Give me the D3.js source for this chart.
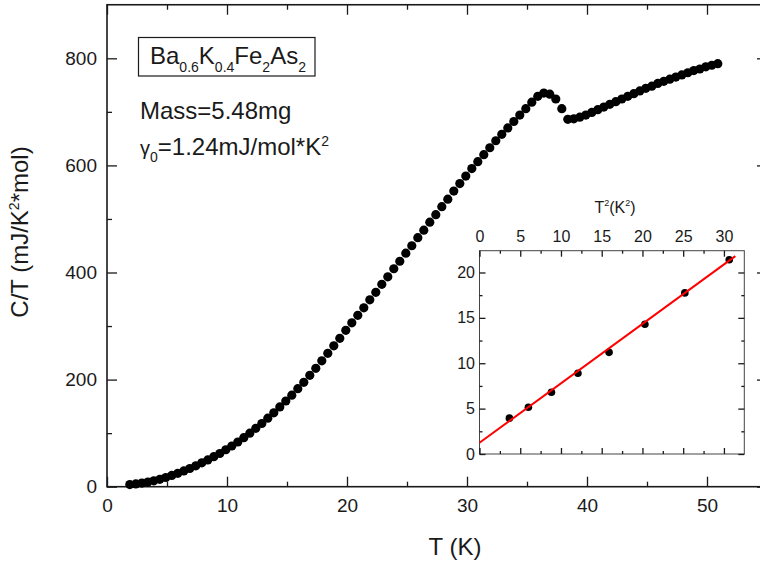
<!DOCTYPE html>
<html>
<head>
<meta charset="utf-8">
<script src="https://cdn.jsdelivr.net/npm/d3@7"></script>
<style>
    body { margin: 0; background: #fff; }
    svg { display: block; font-family: "Liberation Sans", Arial, sans-serif; }
</style>
</head>
<body>
<svg id="chart" width="760" height="567"></svg>
<script>
// main curve: C/T vs T
var tempK = [1.9, 2.4, 2.9, 3.4, 3.9, 4.4, 4.9, 5.4, 5.9, 6.4,
    6.9, 7.4, 7.9, 8.4, 8.9, 9.4, 9.9, 10.4, 10.9, 11.4,
    11.9, 12.4, 12.9, 13.4, 13.9, 14.4, 14.9, 15.4, 15.9, 16.4,
    16.9, 17.4, 17.9, 18.4, 18.9, 19.4, 19.9, 20.4, 20.9, 21.4,
    21.9, 22.4, 22.9, 23.4, 23.9, 24.4, 24.9, 25.4, 25.9, 26.4,
    26.9, 27.4, 27.9, 28.4, 28.9, 29.4, 29.9, 30.4, 30.9, 31.4,
    31.9, 32.4, 32.9, 33.4, 33.9, 34.4, 34.9, 35.4, 35.9, 36.4,
    36.9, 37.4, 37.9, 38.4, 38.9, 39.4, 39.9, 40.4, 40.9, 41.4,
    41.9, 42.4, 42.9, 43.4, 43.9, 44.4, 44.9, 45.4, 45.9, 46.4,
    46.9, 47.4, 47.9, 48.4, 48.9, 49.4, 49.9, 50.4, 50.9];
var cOverT = [3.9, 5.1, 6.7, 8.7, 11.0, 13.8, 17.2, 21.0, 25.0, 29.5,
    34.0, 39.0, 44.5, 50.0, 56.0, 62.0, 69.0, 76.0, 83.5, 91.5,
    100, 109, 118, 128, 138, 149, 160, 171, 183, 195,
    208, 221, 235, 249, 263, 277, 292, 306, 320, 334,
    349, 363, 378, 392, 407, 421, 436, 450, 465, 479,
    494, 508, 523, 537, 552, 566, 580, 594, 607, 620,
    633, 646, 658, 670, 682, 694, 706, 718, 729, 735,
    733, 724, 706, 686, 687, 690, 694, 699, 704, 709,
    714, 719, 724, 729, 734, 739, 744, 748, 753, 757,
    761, 765, 769, 773, 777, 780, 784, 787, 790];

// inset: C/T vs T^2 at low temperature, with the linear fit
var insetT2 = [3.67, 6.0, 8.83, 12.08, 15.9, 20.3, 25.2, 30.65];
var insetCT = [3.95, 5.15, 6.8, 8.9, 11.2, 14.3, 17.75, 21.4];
var fitT2 = [0, 31.4];
var fitCT = [1.24, 21.8];

// tick values
var xMajor = [0, 10, 20, 30, 40, 50];
var xMinor = [5, 15, 25, 35, 45];
var yMajor = [0, 200, 400, 600, 800];
var yMinor = [100, 300, 500, 700];
var insetXMajor = [0, 5, 10, 15, 20, 25, 30];
var insetXMinor = [2.5, 7.5, 12.5, 17.5, 22.5, 27.5];
var insetYMajor = [0, 5, 10, 15, 20];
var insetYMinor = [2.5, 7.5, 12.5, 17.5];

var svg = d3.select("#chart");
var ink = "#1a1a1a";

var x = d3.scaleLinear().domain([0, 55]).range([107, 767]);
var y = d3.scaleLinear().domain([0, 900]).range([486.7, 4.75]);

//draws one set of ticks (major with labels or minor without)
function ticks(axis, values, size, pad, fontSize, labelled, tx, ty) {
    var g = svg.append("g")
        .attr("transform", "translate(" + tx + "," + ty + ")")
        .call(axis.tickValues(values).tickSize(-size).tickPadding(pad)
            .tickFormat(labelled ? d3.format("") : ""));
    g.select(".domain").remove();
    g.selectAll("line").attr("stroke", ink).attr("stroke-width", 1.3);
    g.selectAll("text").attr("fill", ink).style("font-size", fontSize + "px")
        .style("font-family", "\"Liberation Sans\", Arial, sans-serif");
    return g;
}

// main axes: ticks point inwards on all four sides
ticks(d3.axisBottom(x), xMajor, 10, 12, 19, true, 0, y(0));
ticks(d3.axisBottom(x), xMinor, 5, 12, 19, false, 0, y(0));
ticks(d3.axisTop(x), xMajor, 10, 8, 19, false, 0, y(900));
ticks(d3.axisTop(x), xMinor, 5, 8, 19, false, 0, y(900));
ticks(d3.axisLeft(y), yMajor, 10, 10, 19, true, x(0), 0);
ticks(d3.axisLeft(y), yMinor, 5, 10, 19, false, x(0), 0);
ticks(d3.axisRight(y), yMajor, 10, 8, 19, false, x(55), 0);
ticks(d3.axisRight(y), yMinor, 5, 8, 19, false, x(55), 0);

svg.append("rect")
    .attr("x", x(0)).attr("y", y(900))
    .attr("width", x(55) - x(0)).attr("height", y(0) - y(900))
    .attr("fill", "none").attr("stroke", ink).attr("stroke-width", 1.6);

// axis titles
svg.append("text")
    .attr("x", 455).attr("y", 555)
    .attr("text-anchor", "middle")
    .style("font-size", "24px").attr("fill", ink)
    .text("T (K)");

var yTitle = svg.append("text")
    .attr("transform", "translate(28,232) rotate(-90)")
    .attr("text-anchor", "middle")
    .style("font-size", "24px").attr("fill", ink);
yTitle.append("tspan").text("C/T (mJ/K");
yTitle.append("tspan").attr("dy", -9).style("font-size", "14px").text("2");
yTitle.append("tspan").attr("dy", 9).text("*mol)");

// main data
svg.append("g").selectAll("circle")
    .data(tempK)
    .enter()
    .append("circle")
    .attr("cx", (d) => x(d))
    .attr("cy", (d, i) => y(cOverT[i]))
    .attr("r", 4.6)
    .attr("fill", "#000");

// formula box and notes
svg.append("rect")
    .attr("x", 138.5).attr("y", 37.5)
    .attr("width", 176.5).attr("height", 38.5)
    .attr("fill", "none").attr("stroke", ink).attr("stroke-width", 1.2);

var formula = svg.append("text")
    .attr("x", 150).attr("y", 63.5)
    .style("font-size", "24px").attr("fill", ink);
[["Ba", 0], ["0.6", 1], ["K", -1], ["0.4", 1], ["Fe", -1], ["2", 1], ["As", -1], ["2", 1]]
    .forEach(function(p) {
        var t = formula.append("tspan").text(p[0]);
        if (p[1] === 1) t.attr("dy", 8.5).style("font-size", "14px");
        if (p[1] === -1) t.attr("dy", -8.5);
    });

svg.append("text")
    .attr("x", 140).attr("y", 119)
    .style("font-size", "24px").attr("fill", ink)
    .text("Mass=5.48mg");

var gamma = svg.append("text")
    .attr("x", 140).attr("y", 155)
    .style("font-size", "24px").attr("fill", ink);
gamma.append("tspan").style("font-size", "20px").text("γ");
gamma.append("tspan").attr("dy", 7).style("font-size", "14px").text("0");
gamma.append("tspan").attr("dy", -7).text("=1.24mJ/mol*K");
gamma.append("tspan").attr("dy", -9).style("font-size", "14px").text("2");

// inset
var ix = d3.scaleLinear().domain([0, 32.5]).range([479.5, 744.3]);
var iy = d3.scaleLinear().domain([0, 22.4]).range([454, 250.7]);

svg.append("rect")
    .attr("x", ix(0)).attr("y", iy(22.4))
    .attr("width", ix(32.5) - ix(0)).attr("height", iy(0) - iy(22.4))
    .attr("fill", "#fff").attr("stroke", "#444").attr("stroke-width", 1);

ticks(d3.axisTop(ix), insetXMajor, 6, 9, 16, true, 0, iy(22.4));
ticks(d3.axisTop(ix), insetXMinor, 3, 9, 16, false, 0, iy(22.4));
ticks(d3.axisBottom(ix), insetXMajor, 6, 9, 16, false, 0, iy(0));
ticks(d3.axisBottom(ix), insetXMinor, 3, 9, 16, false, 0, iy(0));
ticks(d3.axisLeft(iy), insetYMajor, 6, 4.5, 16, true, ix(0), 0);
ticks(d3.axisLeft(iy), insetYMinor, 3, 4.5, 16, false, ix(0), 0);
ticks(d3.axisRight(iy), insetYMajor, 6, 4.5, 16, false, ix(32.5), 0);
ticks(d3.axisRight(iy), insetYMinor, 3, 4.5, 16, false, ix(32.5), 0);

var insetTitle = svg.append("text")
    .attr("x", 615).attr("y", 213)
    .attr("text-anchor", "middle")
    .style("font-size", "16px").attr("fill", ink);
insetTitle.append("tspan").text("T");
insetTitle.append("tspan").attr("dy", -7).style("font-size", "9px").text("2");
insetTitle.append("tspan").attr("dy", 7).text("(K");
insetTitle.append("tspan").attr("dy", -7).style("font-size", "9px").text("2");
insetTitle.append("tspan").attr("dy", 7).text(")");

svg.append("g").selectAll("circle")
    .data(insetT2)
    .enter()
    .append("circle")
    .attr("cx", (d) => ix(d))
    .attr("cy", (d, i) => iy(insetCT[i]))
    .attr("r", 3.8)
    .attr("fill", "#000");

svg.append("line")
    .attr("x1", ix(fitT2[0])).attr("y1", iy(fitCT[0]))
    .attr("x2", ix(fitT2[1])).attr("y2", iy(fitCT[1]))
    .attr("stroke", "#f00").attr("stroke-width", 2);
</script>
</body>
</html>
